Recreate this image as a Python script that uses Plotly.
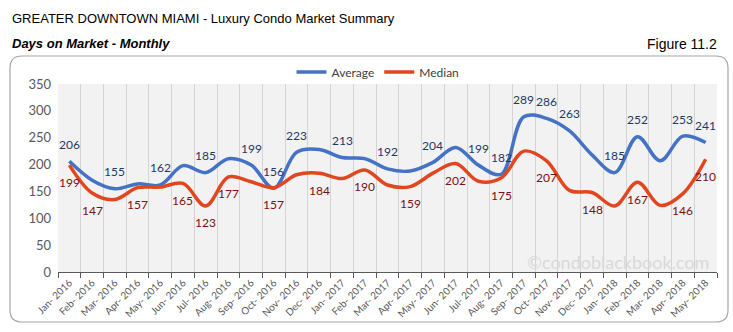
import plotly.graph_objects as go

months = ["Jan- 2016","Feb- 2016","Mar- 2016","Apr- 2016","May- 2016","Jun- 2016","Jul- 2016","Aug- 2016",
          "Sep- 2016","Oct- 2016","Nov- 2016","Dec- 2016","Jan- 2017","Feb- 2017","Mar- 2017","Apr- 2017",
          "May- 2017","Jun- 2017","Jul- 2017","Aug- 2017","Sep- 2017","Oct- 2017","Nov- 2017","Dec- 2017",
          "Jan- 2018","Feb- 2018","Mar- 2018","Apr- 2018","May- 2018"]
average = [206,171,155,164,162,198,185,211,199,156,223,228,213,211,192,188,204,232,199,182,289,286,263,218,185,252,207,253,241]
median = [199,147,135,157,158,165,123,177,168,157,181,184,174,190,162,159,184,202,169,175,225,207,152,148,123,167,124,146,210]
avg_labeled = [1,0,1,0,1,0,1,0,1,1,1,0,1,0,1,0,1,0,1,1,1,1,1,0,1,1,0,1,1]
med_labeled = [1,1,0,1,0,1,1,1,0,1,0,1,0,1,0,1,0,1,0,1,0,1,0,1,0,1,0,1,1]

BLUE = "#4472C4"
RED = "#E2461E"
FONT = "Lato, Open Sans, Liberation Sans, sans-serif"
NARROW = "Liberation Sans Narrow, Arial Narrow, Liberation Sans, sans-serif"

fig = go.Figure()
fig.add_trace(go.Scatter(x=months, y=average, mode="lines", name="Average",
                         line=dict(color=BLUE, width=3.5, shape="spline", smoothing=1.0)))
fig.add_trace(go.Scatter(x=months, y=median, mode="lines", name="Median",
                         line=dict(color=RED, width=3.5, shape="spline", smoothing=1.0)))

annotations = []
for m, v, f in zip(months, average, avg_labeled):
    if f:
        annotations.append(dict(x=m, y=v, text=str(v), showarrow=False, yshift=17,
                                font=dict(family=FONT, size=12, color="#1F3864")))
for m, v, f in zip(months, median, med_labeled):
    if f:
        annotations.append(dict(x=m, y=v, text=str(v), showarrow=False, yshift=-17,
                                font=dict(family=FONT, size=12, color="#7B1010")))

L, R, T, B = 58, 16, 84, 60
W, H = 733, 332
pw, ph = W - L - R, H - T - B
def px(x): return (x - L) / pw
def py(y): return (H - B - y) / ph

annotations += [
    dict(xref="paper", yref="paper", x=px(10), y=py(18), xanchor="left", yanchor="middle",
         text="GREATER DOWNTOWN MIAMI - Luxury Condo Market Summary", showarrow=False,
         font=dict(family=NARROW, size=13, color="#000000")),
    dict(xref="paper", yref="paper", x=px(10), y=py(44), xanchor="left", yanchor="middle",
         text="<b><i>Days on Market - Monthly</i></b>", showarrow=False,
         font=dict(family=NARROW, size=13, color="#000000")),
    dict(xref="paper", yref="paper", x=px(719), y=py(44), xanchor="right", yanchor="middle",
         text="Figure 11.2", showarrow=False,
         font=dict(family=NARROW, size=14, color="#000000")),
    dict(xref="paper", yref="paper", x=px(711), y=py(262), xanchor="right", yanchor="middle",
         text="©condoblackbook.com", showarrow=False,
         font=dict(family=FONT, size=18, color="#d9d9d9")),
]

# rounded border box
x0, x1, y0, y1, r = 10, 728, 56, 322, 12
rx, ry = r / pw, r / ph
X0, X1, Y0, Y1 = px(x0), px(x1), py(y1), py(y0)
path = (f"M {X0+rx},{Y1} L {X1-rx},{Y1} Q {X1},{Y1} {X1},{Y1-ry} "
        f"L {X1},{Y0+ry} Q {X1},{Y0} {X1-rx},{Y0} L {X0+rx},{Y0} Q {X0},{Y0} {X0},{Y0+ry} "
        f"L {X0},{Y1-ry} Q {X0},{Y1} {X0+rx},{Y1} Z")

fig.update_layout(
    width=W, height=H,
    margin=dict(l=L, r=R, t=T, b=B),
    paper_bgcolor="white", plot_bgcolor="#f2f2f2",
    showlegend=True,
    legend=dict(orientation="h", x=px(378), y=py(72), xanchor="center", yanchor="middle",
                font=dict(family=FONT, size=12, color="#404040"), bgcolor="rgba(0,0,0,0)"),
    annotations=annotations,
    shapes=[dict(type="path", xref="paper", yref="paper", path=path,
                 line=dict(color="#a6a6a6", width=1.2), fillcolor="rgba(0,0,0,0)", layer="below")],
    xaxis=dict(type="category", tickson="boundaries", showgrid=True, gridcolor="#d4d4d4", gridwidth=1,
               ticks="outside", ticklen=5, tickcolor="#595959", showline=True, linecolor="#595959",
               linewidth=1, tickangle=-45, tickfont=dict(family=FONT, size=10, color="#595959"),
               range=[-0.5, len(months) - 0.5]),
    yaxis=dict(range=[0, 350], dtick=50, showgrid=False, zeroline=False, showline=False,
               tickfont=dict(family=FONT, size=13, color="#595959"), ticks="", ticklabelstandoff=6),
)

fig.write_html("out.html")
